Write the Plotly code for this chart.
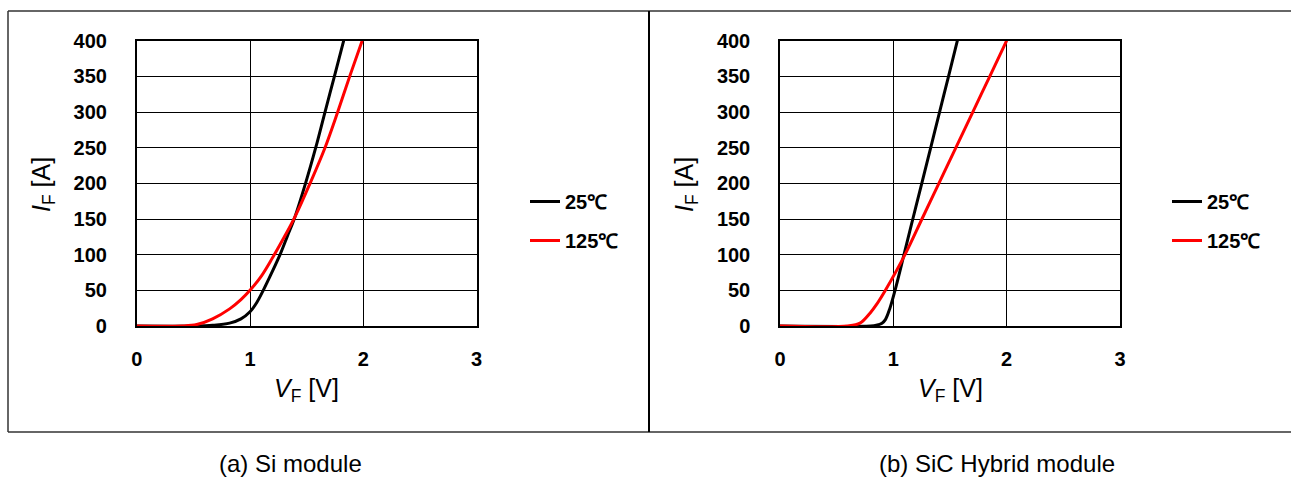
import plotly.graph_objects as go

# ---------------- data ----------------
# (a) Si module
si_v_25 = [0, 0.5, 0.67, 0.82, 0.92, 1.0, 1.06, 1.117, 1.19, 1.265, 1.33, 1.39, 1.49, 1.58, 1.662, 1.745, 1.827]
si_i_25 = [0, 0, 1, 4, 10, 20, 33, 50, 74, 100, 126, 150, 200, 250, 300, 350, 400]
si_v_125 = [0, 0.4, 0.53, 0.67, 0.82, 0.92, 1.0, 1.1, 1.2, 1.3, 1.4, 1.53, 1.662, 1.774, 1.88, 1.99]
si_i_125 = [0, 0, 2, 10, 24, 37, 50, 70, 96, 124, 154, 200, 250, 300, 350, 400]

# (b) SiC Hybrid module
sic_v_25 = [0, 0.8, 0.85, 0.9, 0.93, 0.97, 1.015, 1.094, 1.172, 1.251, 1.33, 1.408, 1.487, 1.565]
sic_i_25 = [0, 0, 1, 4, 9, 25, 50, 100, 150, 200, 250, 300, 350, 400]
sic_v_125 = [0, 0.6, 0.706, 0.794, 0.86, 0.93, 1.103, 1.2525, 1.402, 1.552, 1.701, 1.851, 2.0]
sic_i_125 = [0, 0, 4, 18, 32, 50, 100, 150, 200, 250, 300, 350, 400]

series_names = ["25℃", "125℃"]
x_ticks = [0, 1, 2, 3]
y_ticks = [0, 50, 100, 150, 200, 250, 300, 350, 400]
captions = ["(a) Si module", "(b) SiC Hybrid module"]

W, H = 1291, 478
FONT = "Arial, 'Liberation Sans', sans-serif"

fig = go.Figure()

def add(v, i, name, color, xa, ya, legend):
    fig.add_trace(go.Scatter(
        x=v, y=i, name=name, mode="lines", line=dict(color=color, width=3, shape="spline", smoothing=1),
        xaxis=xa, yaxis=ya, legend=legend, legendgroup=legend + name, showlegend=True,
        hoverinfo="x+y"))

add(si_v_25, si_i_25, series_names[0], "#000000", "x", "y", "legend")
add(si_v_125, si_i_125, series_names[1], "#FF0000", "x", "y", "legend")
add(sic_v_25, sic_i_25, series_names[0], "#000000", "x2", "y2", "legend2")
add(sic_v_125, sic_i_125, series_names[1], "#FF0000", "x2", "y2", "legend2")

def px_x(p):
    return p / W

def px_y(p):
    return 1 - p / H

ydom = [px_y(326), px_y(40.7)]
dom1 = [px_x(136.7), px_x(476.6)]
dom2 = [px_x(780), px_x(1120)]

axis_common = dict(
    showline=True, linecolor="#000", linewidth=1.5, mirror=True, automargin=False,
    showgrid=True, gridcolor="#000", gridwidth=1, zeroline=False,
    ticks="", tickfont=dict(family=FONT, size=20, color="#000", weight="bold"),
)

fig.update_layout(
    template="none",
    width=W, height=H, margin=dict(l=0, r=0, t=0, b=0, pad=0), autosize=False,
    paper_bgcolor="white", plot_bgcolor="white",
    font=dict(family=FONT, color="#000"),
    xaxis=dict(domain=dom1, range=[0, 3], tickvals=x_ticks, anchor="y", ticklabelstandoff=14, **axis_common),
    yaxis=dict(domain=ydom, range=[0, 400], tickvals=y_ticks, anchor="x", ticklabelstandoff=24, **axis_common),
    xaxis2=dict(domain=dom2, range=[0, 3], tickvals=x_ticks, anchor="y2", ticklabelstandoff=14, **axis_common),
    yaxis2=dict(domain=ydom, range=[0, 400], tickvals=y_ticks, anchor="x2", ticklabelstandoff=24, **axis_common),
    legend=dict(x=px_x(525), y=px_y(221), xanchor="left", yanchor="middle",
                font=dict(family=FONT, size=20, color="#000", weight="bold"),
                bgcolor="rgba(0,0,0,0)", borderwidth=0, tracegroupgap=10),
    legend2=dict(x=px_x(1167), y=px_y(221), xanchor="left", yanchor="middle",
                 font=dict(family=FONT, size=20, color="#000", weight="bold"),
                 bgcolor="rgba(0,0,0,0)", borderwidth=0, tracegroupgap=10),
    showlegend=True,
)

# Outer frames
frame = dict(type="line", xref="paper", yref="paper", line=dict(color="#333", width=1.5), layer="above")
fig.add_shape(x0=px_x(8), x1=1.01, y0=px_y(11), y1=px_y(11), **frame)
fig.add_shape(x0=px_x(8), x1=1.01, y0=px_y(432), y1=px_y(432), **frame)
fig.add_shape(x0=px_x(8), x1=px_x(8), y0=px_y(11), y1=px_y(432), **frame)
fig.add_shape(type="line", xref="paper", yref="paper", x0=px_x(649), x1=px_x(649),
              y0=px_y(11), y1=px_y(432), line=dict(color="#000", width=2))

# Axis titles
for xc in [(dom1[0] + dom1[1]) / 2, (dom2[0] + dom2[1]) / 2]:
    fig.add_annotation(text="<i>V</i><sub>F</sub> [V]", xref="paper", yref="paper",
                       x=xc, y=px_y(390), showarrow=False, xanchor="center", yanchor="middle",
                       font=dict(family=FONT, size=25, color="#000"))
for xc in [px_x(43), px_x(686)]:
    fig.add_annotation(text="<i>I</i><sub>F</sub> [A]", xref="paper", yref="paper",
                       x=xc, y=px_y(185), showarrow=False, textangle=-90, xanchor="center", yanchor="middle",
                       font=dict(family=FONT, size=25, color="#000"))

# Captions
for xc, cap in zip([px_x(290), px_x(997)], captions):
    fig.add_annotation(text=cap, xref="paper", yref="paper", x=xc, y=px_y(463),
                       showarrow=False, xanchor="center", yanchor="middle",
                       font=dict(family=FONT, size=24, color="#000"))

fig.write_html(
    "out.html",
    config={"responsive": False, "displayModeBar": False},
    post_script="document.body.style.margin='0';document.body.style.overflow='hidden';"
                "document.documentElement.style.overflow='hidden';",
)
